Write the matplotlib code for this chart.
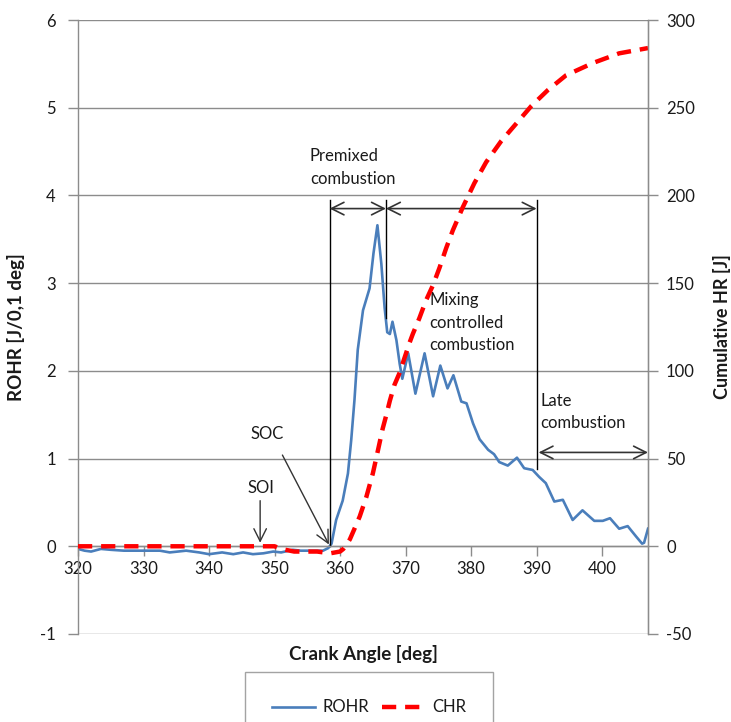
import matplotlib
matplotlib.use("Agg")
import matplotlib.pyplot as plt

plt.rcParams['font.family'] = ['Lato', 'DejaVu Sans']
plt.rcParams['axes.unicode_minus'] = False

# ROHR curve
crank_rohr = [320.0, 321.0, 322.0, 323.5, 325.0, 327.0, 329.0, 331.0, 332.5, 334.0,
              336.5, 338.5, 340.0, 342.0, 343.7, 345.2, 346.7, 348.3, 349.8, 351.0,
              352.8, 354.0, 355.5, 357.4, 358.2, 358.7, 359.4, 360.4, 361.2, 361.7,
              362.2, 362.7, 363.5, 364.5, 365.1, 365.7, 366.3, 366.8, 367.2, 367.6,
              368.0, 368.6, 369.1, 369.5, 370.4, 371.5, 372.9, 374.2, 375.3, 376.4,
              377.3, 378.5, 379.3, 380.3, 381.3, 382.6, 383.5, 384.3, 385.6, 387.0,
              388.1, 389.4, 390.4, 391.4, 392.7, 394.0, 395.5, 397.0, 398.8, 400.1,
              401.2, 402.6, 403.9, 405.2, 406.1, 406.4, 407.0]
rohr = [-0.03, -0.05, -0.06, -0.03, -0.04, -0.05, -0.05, -0.05, -0.05, -0.07,
        -0.05, -0.07, -0.09, -0.07, -0.09, -0.07, -0.09, -0.08, -0.06, -0.07,
        -0.04, -0.05, -0.05, -0.05, -0.02, 0.03, 0.30, 0.52, 0.83, 1.21,
        1.67, 2.24, 2.69, 2.94, 3.34, 3.66, 3.22, 2.72, 2.44, 2.42,
        2.56, 2.35, 2.08, 1.91, 2.20, 1.74, 2.20, 1.71, 2.06, 1.80,
        1.95, 1.65, 1.63, 1.40, 1.22, 1.10, 1.05, 0.96, 0.92, 1.01,
        0.89, 0.87, 0.79, 0.72, 0.51, 0.53, 0.30, 0.41, 0.29, 0.29,
        0.32, 0.20, 0.23, 0.11, 0.03, 0.04, 0.20]

# cumulative heat release
crank_chr = [320.0, 345.0, 350.0, 351.0, 353.0, 356.5, 358.5, 360.0, 360.5, 361.0,
             361.5, 362.2, 363.0, 364.0, 365.0, 365.8, 366.5, 367.0, 367.6, 368.3,
             369.1, 369.8, 370.6, 371.1, 372.1, 373.1, 374.2, 375.2, 376.2, 377.2,
             378.7, 380.5, 382.3, 384.6, 386.9, 389.2, 391.7, 394.5, 398.6, 402.6,
             407.0]
chr_ = [0, 0, 0, -1.5, -3, -3, -4, -3, -1.5, 1,
        4, 10, 17, 28, 41.5, 55, 67, 74, 83, 92,
        99, 107, 116, 121, 130, 140, 149, 159, 170, 180,
        193, 207, 219, 231, 241, 251, 260, 268.5, 275.5, 281,
        284]

xticks = list(range(320, 401, 10))
yticks_left = list(range(-1, 7))
yticks_right = list(range(-50, 301, 50))

grey = '#8c8c8c'
txt = '#1a1a1a'

fig = plt.figure(figsize=(7.31, 7.22), dpi=100)
ax = fig.add_axes([78 / 731, 1 - 634 / 722, 570 / 731, 614 / 722])
ax2 = ax.twinx()

l1, = ax.plot(crank_rohr, rohr, color='#4A7EBB', lw=1.9, label='ROHR')
l2, = ax2.plot(crank_chr, chr_, color='#FF0000', lw=3.2, ls=(0, (3.2, 2.0)), label='CHR')

ax.set_xlim(320, 407)
ax.set_ylim(-1, 6)
ax2.set_ylim(-50, 300)
ax.set_xticks(xticks)
ax.set_yticks(yticks_left)
ax2.set_yticks(yticks_right)

ax.grid(axis='y', color=grey, lw=1)
ax.set_axisbelow(True)
ax.spines['top'].set_visible(False)
ax2.spines['top'].set_visible(False)
ax2.spines['bottom'].set_visible(False)
ax.spines['bottom'].set_position(('data', 0))
for sp in [ax.spines['bottom'], ax.spines['left'], ax2.spines['right']]:
    sp.set_color(grey)
    sp.set_linewidth(1)
ax2.spines['left'].set_visible(False)

ax.tick_params(axis='both', colors=grey, labelcolor=txt, labelsize=12, length=7, width=1)
ax2.tick_params(axis='y', colors=grey, labelcolor=txt, labelsize=12, length=7, width=1)
ax.tick_params(axis='y', pad=9)
ax2.tick_params(axis='y', pad=6)

ax.set_xlabel('Crank Angle [deg]', fontsize=13.5, fontweight='bold', color=txt)
ax.xaxis.set_label_coords(0.5, -0.018)
ax.set_ylabel('ROHR [J/0,1 deg]', fontsize=13.5, fontweight='bold', color=txt)
ax.yaxis.set_label_coords(-0.093, 0.5)
ax2.set_ylabel('Cumulative HR [J]', fontsize=13, fontweight='bold', color=txt)
ax2.yaxis.set_label_coords(1.114, 0.5)

# annotations
lk = dict(color='black', lw=1)
arr = dict(arrowstyle='<->,head_length=0.6,head_width=0.3', color='#333333', lw=1.2,
           shrinkA=0, shrinkB=0, mutation_scale=15)
ax.plot([358.4, 358.4], [0, 3.95], **lk)
ax.plot([367.0, 367.0], [2.6, 3.95], **lk)
ax.plot([390.0, 390.0], [0.88, 3.95], **lk)
ax.annotate('', xy=(358.4, 3.85), xytext=(367.0, 3.85), arrowprops=arr)
ax.annotate('', xy=(367.0, 3.85), xytext=(390.0, 3.85), arrowprops=arr)
ax.annotate('', xy=(390.3, 1.07), xytext=(407.0, 1.07), arrowprops=arr, annotation_clip=False)

ax.text(355.4, 4.32, 'Premixed\ncombustion', fontsize=12, color=txt, va='center', ha='left',
        linespacing=1.5)
ax.text(373.6, 2.55, 'Mixing\ncontrolled\ncombustion', fontsize=12, color=txt, va='center',
        ha='left', linespacing=1.5)
ax.text(390.6, 1.53, 'Late\ncombustion', fontsize=12, color=txt, va='center', ha='left',
        linespacing=1.5)

one = dict(arrowstyle='->,head_length=0.6,head_width=0.3', color='#333333', lw=1,
           shrinkA=0, shrinkB=0, mutation_scale=15)
ax.text(348.8, 1.28, 'SOC', fontsize=12, color=txt, ha='center', va='center')
ax.annotate('', xy=(358.3, 0.02), xytext=(351.2, 1.04), arrowprops=one)
ax.text(347.9, 0.66, 'SOI', fontsize=12, color=txt, ha='center', va='center')
ax.annotate('', xy=(347.8, 0.04), xytext=(347.8, 0.52), arrowprops=one)

leg = fig.legend([l1, l2], ['ROHR', 'CHR'], loc='upper center',
                 bbox_to_anchor=(369 / 731, 1 - 672 / 722), ncol=2, fontsize=12,
                 frameon=True, fancybox=False, edgecolor=grey, borderpad=1.65,
                 borderaxespad=0, handlelength=2.6, handletextpad=0.4, columnspacing=0.8)
leg.get_frame().set_linewidth(1)
for t in leg.get_texts():
    t.set_color(txt)

fig.savefig('out.png', dpi=100)
